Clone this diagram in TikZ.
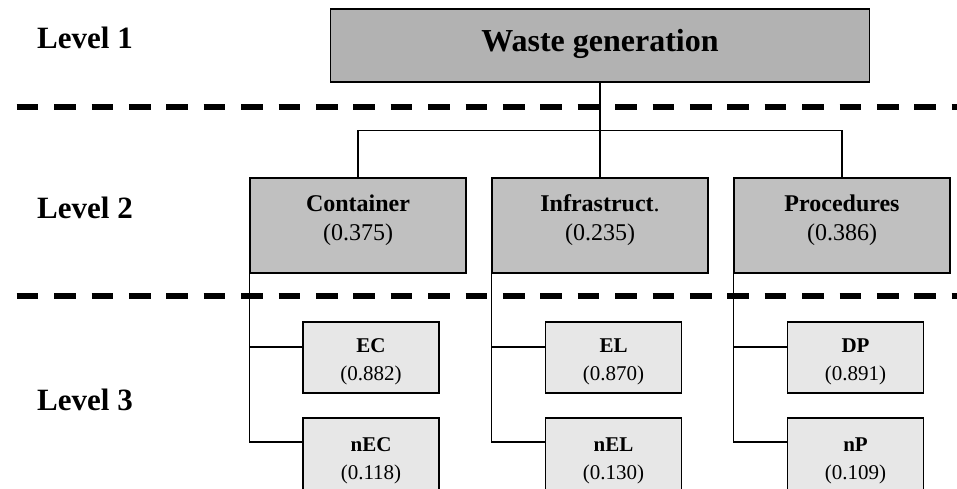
\documentclass[tikz,border=0pt]{standalone}
\usepackage{fontspec}
\setmainfont{Liberation Serif}
\definecolor{gA}{RGB}{178,178,178}
\definecolor{gB}{RGB}{192,192,192}
\definecolor{gC}{RGB}{231,231,231}
\begin{document}
\begin{tikzpicture}[x=1pt,y=-1pt,
  box1/.style={draw, line width=1.6pt, fill=gA, minimum width=539pt, minimum height=73pt, inner sep=0pt,
    font=\fontsize{32}{38}\selectfont\bfseries, text height=22pt, text depth=9pt},
  box2/.style={draw, line width=1.6pt, fill=gB, minimum width=216pt, minimum height=95pt, inner sep=0pt},
  box3/.style={draw, line width=1.8pt, fill=gC, minimum width=136pt, minimum height=71pt, inner sep=0pt},
  box3b/.style={box3, minimum height=76pt},
  txt2/.style={align=center, inner sep=0pt, font=\fontsize{24}{29}\selectfont},
  txt3/.style={align=center, inner sep=0pt, font=\fontsize{21}{28}\selectfont},
  conn/.style={line width=1.3pt},
  sepline/.style={line width=5.5pt, dash pattern=on 21.7pt off 15.7pt},
  lvl/.style={anchor=base west, inner sep=0pt, font=\fontsize{31}{37}\selectfont\bfseries}]
\clip (0,0) rectangle (957,489);
\fill[white] (0,0) rectangle (957,489);

% separators
\coordinate (s1a) at (16.7,107); \coordinate (s1b) at (960,107);
\coordinate (s2a) at (16.7,296); \coordinate (s2b) at (960,296);
\draw[sepline] (s1a) -- (s1b);
\draw[sepline] (s2a) -- (s2b);

% level labels
\node[lvl] (l1) at (37,49) {Level 1};
\node[lvl] (l2) at (37,218) {Level 2};
\node[lvl] (l3) at (37,410) {Level 3};

% level 1
\node[box1] (top) at (600,45.5) {Waste generation};

% level 2
\node[box2, label={[txt2,yshift=5.6pt]center:{\textbf{Container}\\(0.375)}}] (cont) at (358,225.5) {};
\node[box2, label={[txt2,yshift=5.6pt]center:{\textbf{Infrastruct}.\\(0.235)}}] (infr) at (600,225.5) {};
\node[box2, label={[txt2,yshift=5.6pt]center:{\textbf{Procedures}\\(0.386)}}] (proc) at (842,225.5) {};

% level 3
\node[box3, label={[txt3,yshift=-3.9pt]center:{\textbf{EC}\\(0.882)}}] (ec) at (371,357.5) {};
\node[box3b, label={[txt3,yshift=-5pt]center:{\textbf{nEC}\\(0.118)}}] (nec) at (371,456) {};
\node[box3, label={[txt3,yshift=-3.9pt]center:{\textbf{EL}\\(0.870)}}] (el) at (613.5,357.5) {};
\node[box3b, label={[txt3,yshift=-5pt]center:{\textbf{nEL}\\(0.130)}}] (nel) at (613.5,456) {};
\node[box3, label={[txt3,yshift=-3.9pt]center:{\textbf{DP}\\(0.891)}}] (dp) at (855.5,357.5) {};
\node[box3b, label={[txt3,yshift=-5pt]center:{\textbf{nP}\\(0.109)}}] (np) at (855.5,456) {};

% connectors level 1 -> 2
\draw[conn] (top.south) -- ++(0,48) coordinate (bus) -| (cont.north);
\draw[conn] (bus) -| (proc.north);
\draw[conn] (top.south) -- (infr.north);

% connectors level 2 -> 3
\draw[conn] (cont.south west) |- ([yshift=14pt]nec.west);
\draw[conn] ([yshift=10.5pt]ec.west) -| (cont.south west);
\draw[conn] (infr.south west) |- ([yshift=14pt]nel.west);
\draw[conn] ([yshift=10.5pt]el.west) -| (infr.south west);
\draw[conn] (proc.south west) |- ([yshift=14pt]np.west);
\draw[conn] ([yshift=10.5pt]dp.west) -| (proc.south west);
\end{tikzpicture}
\end{document}
